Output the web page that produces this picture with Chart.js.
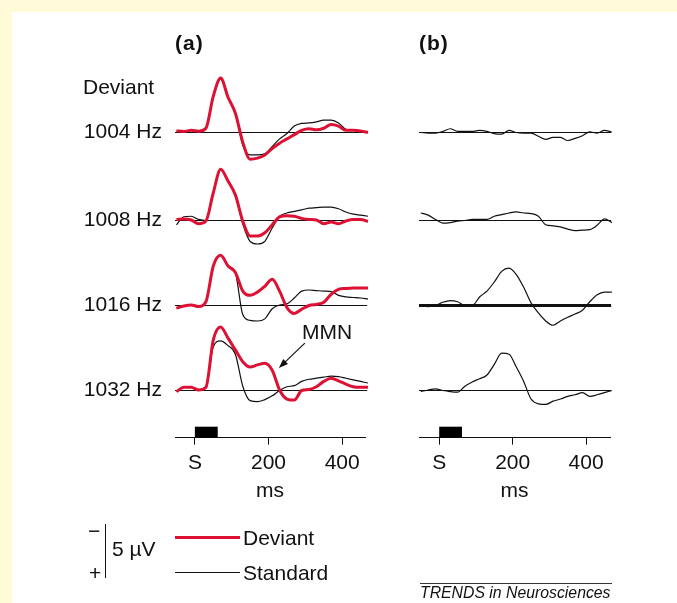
<!DOCTYPE html>
<html>
<head>
<meta charset="utf-8">
<script src="https://cdn.jsdelivr.net/npm/chart.js@4.4.1/dist/chart.umd.min.js"></script>
<style>
  html, body { margin: 0; padding: 0; }
  body { width: 677px; height: 603px; background: #FFFAD7; position: relative; overflow: hidden;
         font-family: 'Liberation Sans', Arial, sans-serif; color: #111; }
  #panel { position: absolute; left: 12px; top: 12px; width: 665px; height: 591px; background: #fff; }
  canvas { position: absolute; left: 0; top: 0; }
  .t { position: absolute; font-size: 21px; line-height: 1; white-space: nowrap; transform: translateY(-50%); }
  .rule { position: absolute; }
</style>
</head>
<body>
<div id="panel"></div>
<canvas id="panelA" width="677" height="603"></canvas>
<canvas id="panelB" width="677" height="603"></canvas>

<div class="t" style="left:175px;top:42px;font-weight:bold;letter-spacing:1px">(a)</div>
<div class="t" style="left:419px;top:42px;font-weight:bold;letter-spacing:1px">(b)</div>
<div class="t" style="left:83px;top:86px">Deviant</div>
<div class="t" style="left:302px;top:331px">MMN</div>

<div class="t" style="left:88px;top:530px">&minus;</div>
<div class="t" style="left:89px;top:572px">+</div>
<div class="rule" style="left:104.5px;top:524.3px;width:1.2px;height:53.4px;background:#111"></div>
<div class="t" style="left:112px;top:548px">5 &micro;V</div>
<div class="rule" style="left:175px;top:535.5px;width:65px;height:3px;background:#DD1133"></div>
<div class="t" style="left:243px;top:537px">Deviant</div>
<div class="rule" style="left:175px;top:571.7px;width:65px;height:1.2px;background:#111"></div>
<div class="t" style="left:243px;top:572px">Standard</div>

<div class="rule" style="left:420px;top:582.5px;width:192px;height:1px;background:#333"></div>
<div class="t" style="left:420px;top:593px;font-size:15.8px;font-style:italic">TRENDS in Neurosciences</div>

<script>
// ---- data ----

// sample times (ms) shared by every trace
var times = [-50, -30, -10, 10, 30, 50, 70, 90, 110, 130, 150, 170, 190, 210,
             230, 250, 270, 290, 310, 330, 350, 370, 390, 410, 430, 450, 470];

var rowLabels = ['1004 Hz', '1008 Hz', '1016 Hz', '1032 Hz'];
var xTicks = [0, 200, 400];
var xTickLabels = ['S', '200', '400'];
var stimulus = [0, 62];           // ms, black bar on the time axis
var mmnPoint = [228, -2.1];       // ms, µV on the 1032 Hz deviant trace

// panel (a), µV, negative is drawn upwards
var deviant1004 = [-0.15, -0.1, -0.2, -0.12, -0.4, -3.4, -5.1, -3.3, -1.8, 0.9, 2.5, 2.4, 2.1, 1.5,
                   1.0, 0.6, 0.2, -0.2, -0.35, -0.25, -0.4, -0.75, -0.6, -0.2, -0.2, -0.15, 0];
var standard1004 = [-0.15, -0.1, -0.2, -0.12, -0.4, -3.3, -5.0, -3.3, -1.8, 1.2, 2.1, 2.1, 2.0, 1.3,
                    0.6, 0.1, -0.6, -0.85, -0.9, -1.0, -1.15, -1.15, -0.9, -0.3, -0.2, -0.15, 0];

var deviant1008 = [-0.1, -0.15, -0.05, 0.3, 0.05, -2.6, -4.8, -3.7, -2.4, 0.05, 1.45, 1.45, 1.15, 0.4,
                   -0.35, -0.45, -0.4, -0.2, -0.1, -0.05, 0.3, 0.15, 0.3, 0.05, -0.1, -0.1, 0.1];
var standard1008 = [0.4, -0.35, -0.4, -0.1, 0, -2.6, -4.8, -3.7, -2.4, 0.3, 1.95, 2.2, 1.95, 0.7,
                    -0.4, -0.7, -0.85, -1.0, -1.15, -1.2, -1.25, -1.25, -1.1, -0.8, -0.6, -0.5, -0.4];

var deviant1016 = [0.25, 0.05, -0.05, 0.1, -0.35, -3.7, -4.7, -3.7, -3.1, -1.35, -0.95, -1.25, -1.8, -2.45,
                   -1.35, 0.2, 0.75, 0.35, 0, -0.1, -0.3, -1.05, -1.5, -1.6, -1.65, -1.65, -1.65];
var standard1016 = [0.25, 0.05, -0.05, 0.1, -0.35, -3.7, -4.7, -3.7, -3.05, 0.85, 1.4, 1.45, 1.25, 0.3,
                    -0.05, -0.15, -0.7, -1.35, -1.45, -1.4, -1.35, -1.3, -0.95, -0.8, -0.75, -0.7, -0.6];

var deviant1032 = [0.1, -0.3, -0.3, -0.05, -0.3, -4.75, -5.95, -4.9, -3.8, -2.7, -2.2, -2.4, -2.55, -1.9,
                   -0.05, 0.8, 0.9, 0, -0.1, -0.35, -0.85, -1.15, -0.9, -0.6, -0.35, -0.3, -0.3];
var standard1032 = [0.1, -0.3, -0.3, -0.05, -0.3, -4.1, -4.65, -4.2, -3.4, -0.4, 0.95, 1.05, 0.85, 0.5,
                    0, -0.35, -0.45, -0.85, -1.05, -1.15, -1.25, -1.35, -1.3, -1.15, -1.0, -0.85, -0.7];

// panel (b), deviant minus standard
var diff1004 = [0, 0.05, 0.05, -0.1, -0.35, -0.1, -0.1, -0.1, -0.2, -0.1, 0.1, 0.15, -0.2, 0,
                0.05, 0.05, 0.35, 0.65, 0.45, 0.45, 0.75, 0.55, 0.3, -0.05, 0.05, -0.2, -0.05];
var diff1008 = [-0.7, -0.5, -0.1, 0.25, 0.2, 0.05, 0, -0.1, -0.1, -0.1, -0.4, -0.55, -0.7, -0.8,
                -0.7, -0.65, -0.4, 0.4, 0.5, 0.6, 0.8, 0.95, 0.9, 0.85, 0.45, -0.15, 0.2];
var diff1016 = [0.05, 0.1, 0, -0.3, -0.45, -0.35, 0, 0, -0.8, -1.35, -2.2, -3.2, -3.5, -2.9,
                -1.7, -0.25, 0.7, 1.45, 1.85, 1.45, 1.1, 0.8, 0.45, -0.35, -1.0, -1.25, -1.25];
var diff1032 = [0.1, -0.05, -0.15, 0, 0.1, 0.15, -0.4, -0.8, -1.1, -1.45, -2.45, -3.5, -3.4, -2.2,
                -0.85, 0.8, 1.25, 1.3, 1.0, 0.8, 0.55, 0.4, 0.2, 0.55, 0.4, 0.2, 0];

var deviant = [deviant1004, deviant1008, deviant1016, deviant1032];
var standard = [standard1004, standard1008, standard1016, standard1032];
var difference = [diff1004, diff1008, diff1016, diff1032];

// ---- layout ----
var AXIS_Y = 437.7, TOP_Y = 60, PX_PER_UV = 10.68;
var baselinePx = [132.5, 220.5, 305.5, 390.5];
var rowLevel = baselinePx.map(function (b) { return (AXIS_Y - b) / PX_PER_UV; });
var yMax = (AXIS_Y - TOP_Y) / PX_PER_UV;
var RED = '#DD1133';
var INK = '#111';
var FONT = "'Liberation Sans', Arial, sans-serif";

function trace(values, level) {
    return values.map(function (v, i) { return { x: times[i], y: level - v }; });
}

function line(data, color, width, order) {
    return {
        data: data, borderColor: color, borderWidth: width, pointRadius: 0,
        cubicInterpolationMode: 'monotone', clip: false, order: order
    };
}

function timeAxis(min, max) {
    return {
        type: 'linear', position: 'bottom', min: min, max: max,
        afterFit: function (s) { s.height = 603 - AXIS_Y; },
        afterBuildTicks: function (s) { s.ticks = xTicks.map(function (v) { return { value: v }; }); },
        ticks: {
            padding: 5.6, color: INK, maxRotation: 0, autoSkip: false,
            font: { family: FONT, size: 21 },
            callback: function (v) { return xTickLabels[xTicks.indexOf(v)]; }
        },
        grid: { drawOnChartArea: false, drawTicks: true, tickLength: 7, color: INK, lineWidth: 1 },
        border: { display: true, color: INK, width: 1 },
        title: { display: true, text: 'ms', color: INK, font: { family: FONT, size: 21 },
                 padding: { top: 0, bottom: 99 } }
    };
}

var stimulusBar = {
    id: 'stimulusBar',
    afterDraw: function (chart) {
        var x = chart.scales.x, ctx = chart.ctx, bottom = chart.chartArea.bottom;
        var x0 = x.getPixelForValue(stimulus[0]), x1 = x.getPixelForValue(stimulus[1]);
        ctx.save();
        ctx.fillStyle = '#000';
        ctx.fillRect(x0, bottom - 11, x1 - x0, 11);
        ctx.restore();
    }
};

var mmnArrow = {
    id: 'mmnArrow',
    afterDraw: function (chart) {
        var ctx = chart.ctx;
        var tx = chart.scales.x.getPixelForValue(mmnPoint[0]);
        var ty = chart.scales.y.getPixelForValue(rowLevel[3] - mmnPoint[1]);
        var sx = tx + 26, sy = ty - 25;
        var a = Math.atan2(ty - sy, tx - sx);
        ctx.save();
        ctx.strokeStyle = INK; ctx.fillStyle = INK; ctx.lineWidth = 1.2;
        ctx.beginPath(); ctx.moveTo(sx, sy); ctx.lineTo(tx - 6 * Math.cos(a), ty - 6 * Math.sin(a)); ctx.stroke();
        ctx.beginPath();
        ctx.moveTo(tx, ty);
        ctx.lineTo(tx - 10 * Math.cos(a - 0.35), ty - 10 * Math.sin(a - 0.35));
        ctx.lineTo(tx - 10 * Math.cos(a + 0.35), ty - 10 * Math.sin(a + 0.35));
        ctx.closePath(); ctx.fill();
        ctx.restore();
    }
};

// ---- panel (a): deviant vs standard ----
var setsA = [];
rowLevel.forEach(function (level, r) {
    setsA.push(line([{ x: -54, y: level }, { x: 468, y: level }], INK, 1, 3));
    setsA.push(line(trace(standard[r], level), INK, 1.2, 2));
    setsA.push(line(trace(deviant[r], level), RED, 3, 1));
});

new Chart(document.getElementById('panelA').getContext('2d'), {
    type: 'line',
    data: { datasets: setsA },
    options: {
        responsive: false, animation: false, events: [],
        layout: { padding: { left: 0, right: 677 - 365, top: TOP_Y, bottom: 0 } },
        plugins: { legend: { display: false }, tooltip: { enabled: false } },
        scales: {
            x: timeAxis(-54, 462),
            y: {
                type: 'linear', position: 'left', min: 0, max: yMax,
                afterFit: function (s) { s.width = 175; },
                afterBuildTicks: function (s) { s.ticks = rowLevel.map(function (v) { return { value: v }; }); },
                ticks: {
                    padding: 13, color: INK, autoSkip: false, font: { family: FONT, size: 21 },
                    callback: function (v) { return rowLabels[rowLevel.indexOf(v)]; }
                },
                grid: { display: false, drawTicks: false },
                border: { display: false }
            }
        }
    },
    plugins: [stimulusBar, mmnArrow]
});

// ---- panel (b): difference waves ----
var setsB = [];
rowLevel.forEach(function (level, r) {
    setsB.push(line([{ x: -55, y: level }, { x: 468, y: level }], INK, r === 2 ? 3 : 1, 2));
    setsB.push(line(trace(difference[r], level), INK, 1.2, 1));
});

new Chart(document.getElementById('panelB').getContext('2d'), {
    type: 'line',
    data: { datasets: setsB },
    options: {
        responsive: false, animation: false, events: [],
        layout: { padding: { left: 419, right: 677 - 610, top: TOP_Y, bottom: 0 } },
        plugins: { legend: { display: false }, tooltip: { enabled: false } },
        scales: {
            x: timeAxis(-55, 465),
            y: { type: 'linear', display: false, min: 0, max: yMax }
        }
    },
    plugins: [stimulusBar]
});
</script>
</body>
</html>
